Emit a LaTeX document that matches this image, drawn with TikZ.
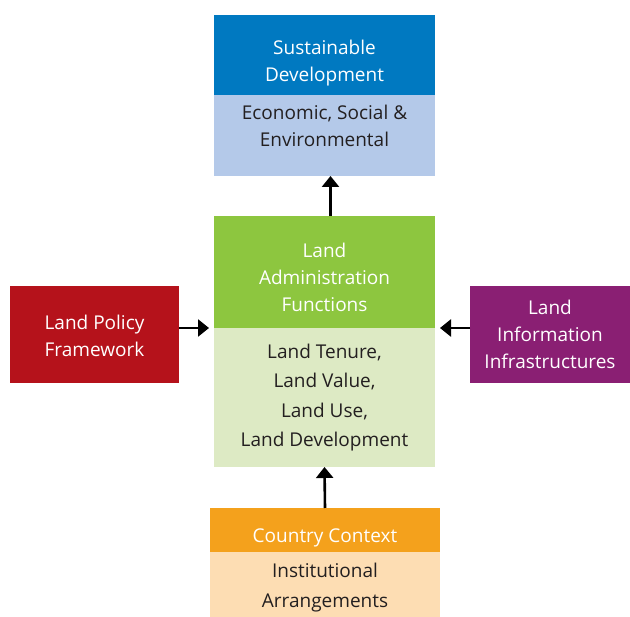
\documentclass[tikz,border=0pt]{standalone}
\usepackage{fontspec}
\setmainfont{Open Sans}
\usetikzlibrary{arrows.meta,positioning}

\definecolor{sdblue}{HTML}{0079C1}
\definecolor{sdlight}{HTML}{B4C9E9}
\definecolor{lagreen}{HTML}{8DC63F}
\definecolor{lalight}{HTML}{DDEAC4}
\definecolor{lpred}{HTML}{B5121B}
\definecolor{lipurple}{HTML}{8A1F73}
\definecolor{ccorange}{HTML}{F4A11C}
\definecolor{cclight}{HTML}{FDDDB3}
\definecolor{ink}{HTML}{231F20}

\tikzset{
  box/.style={inner sep=0pt, outer sep=0pt, align=center, anchor=north west,
    font=\fontsize{19}{27}\selectfont},
  drop/.style={execute at begin node={\rule{0pt}{#1}}},
  head/.style={box, text=white},
  body/.style={box, text=ink},
  push/.style={line width=2.6pt, -{Triangle[length=11pt,width=17pt]}},
}

\begin{document}
\begin{tikzpicture}[x=1pt,y=-1pt]
  \useasboundingbox (0,0) rectangle (630,617);

  % sustainable development
  \node[head, drop=57pt, fill=sdblue, minimum width=221pt, minimum height=80pt] (sdhead) at (214,15) {Sustainable\\Development};
  \node[body, fill=sdlight, minimum width=221pt, minimum height=81pt,
    execute at end node={\rule[-20pt]{0pt}{0pt}}] (sdbody) at (214,95) {Economic, Social \&\\Environmental};

  % land administration functions
  \node[head, drop=80pt, fill=lagreen, minimum width=221pt, minimum height=112pt] (lafhead) at (214,216) {Land\\Administration\\Functions};
  \node[body, fill=lalight, minimum width=221pt, minimum height=139pt,
    font=\fontsize{19}{29.5}\selectfont] (lafbody) at (214,328) {Land Tenure,\\Land Value,\\Land Use,\\Land Development};

  % side boxes
  \node[head, drop=45pt, fill=lpred, minimum width=169pt, minimum height=97pt] (lpf) at (10,286) {Land Policy\\Framework};
  \node[head, fill=lipurple, minimum width=160pt, minimum height=97pt] (lii) at (470,286) {Land\\Information\\Infrastructures};

  % country context
  \node[head, drop=30pt, fill=ccorange, minimum width=230pt, minimum height=44pt] (cchead) at (210,508) {Country Context};
  \node[body, drop=50pt, fill=cclight, minimum width=230pt, minimum height=65pt,
    font=\fontsize{19}{29.5}\selectfont] (ccbody) at (210,552) {Institutional\\Arrangements};

  % arrows
  \draw[push] ([xshift=6pt]lafhead.north) -- ([xshift=6pt]sdbody.south);
  \draw[push, shorten >=5pt] (lpf.east |- lafhead.south) -- (lafhead.south west);
  \draw[push, shorten >=5pt] (lii.west |- lafhead.south) -- (lafhead.south east);
  \draw[push] (cchead.north) -- (lafbody.south);
\end{tikzpicture}
\end{document}
